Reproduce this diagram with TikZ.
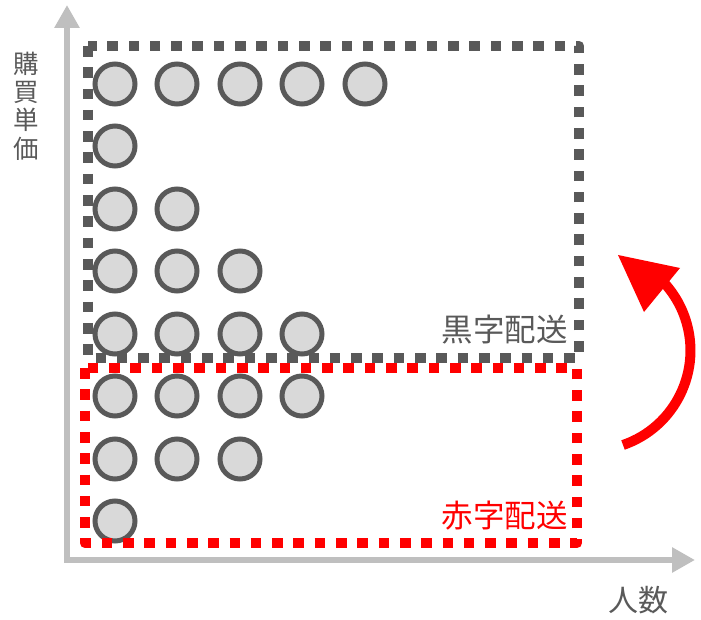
\documentclass[tikz,border=0pt]{standalone}
\usepackage{fontspec}
\setmainfont{Noto Sans CJK JP}
\usetikzlibrary{arrows.meta}
\definecolor{axisgray}{HTML}{BFBFBF}
\definecolor{dgray}{HTML}{595959}
\definecolor{cfill}{HTML}{D9D9D9}
\definecolor{pred}{HTML}{FF0000}
\tikzset{
  axisline/.style={draw=axisgray, line width=6pt, line join=miter,
    {Triangle[length=23pt,width=24pt]}-{Triangle[length=23pt,width=24pt]}},
  dot/.style={circle, draw=dgray, fill=cfill, line width=5pt, minimum size=40pt, inner sep=0pt},
  sqdash/.style={line width=10.5pt, dash pattern=on 10.6pt off 10.7pt, line join=round},
  lbl/.style={inner sep=0pt, text=dgray, font=\fontsize{31.5}{36}\selectfont},
}
\begin{document}
\begin{tikzpicture}[x=1pt,y=-1pt]
\useasboundingbox (0,0) rectangle (701,620);
% axes
\coordinate (ytip) at (67,5);
\coordinate (orig) at (67,560);
\coordinate (xtip) at (695,560);
\draw[axisline] (ytip) -- (orig) -- (xtip);
% circles
\foreach \y/\n [count=\r] in {84/5,146/1,209/2,271/3,334/4,396/4,459/3,521/1}{
  \foreach \x [count=\c] in {115,177,240,302,365}{
    \ifnum\c>\n\else
      \node[dot] (c\r-\c) at (\x,\y) {};
    \fi
  }
}
% dashed frames
\draw[sqdash, draw=dgray] (88,46) rectangle (579,358);
\draw[sqdash, draw=pred] (85,368) rectangle (577,543);
% labels
\node[lbl, anchor=east] (kuro) at (568,330) {黒字配送};
\node[lbl, anchor=east, text=pred] (aka) at (568,516) {赤字配送};
\node[lbl, font=\fontsize{30}{34}\selectfont] (ninzu) at (638.5,600) {人数};
\node[lbl, align=center, font=\fontsize{25.5}{28.3}\selectfont] (kobai) at (26,106) {購\\買\\単\\価};
% red curved arrow
\coordinate (astart) at (623,445);
\coordinate (atip) at (618,255);
\draw[draw=pred, line width=10pt] (astart) arc[start angle=71, end angle=-50, radius=100];
\fill[pred] (atip) -- (644,312) -- (680,268) -- cycle;
\end{tikzpicture}
\end{document}
